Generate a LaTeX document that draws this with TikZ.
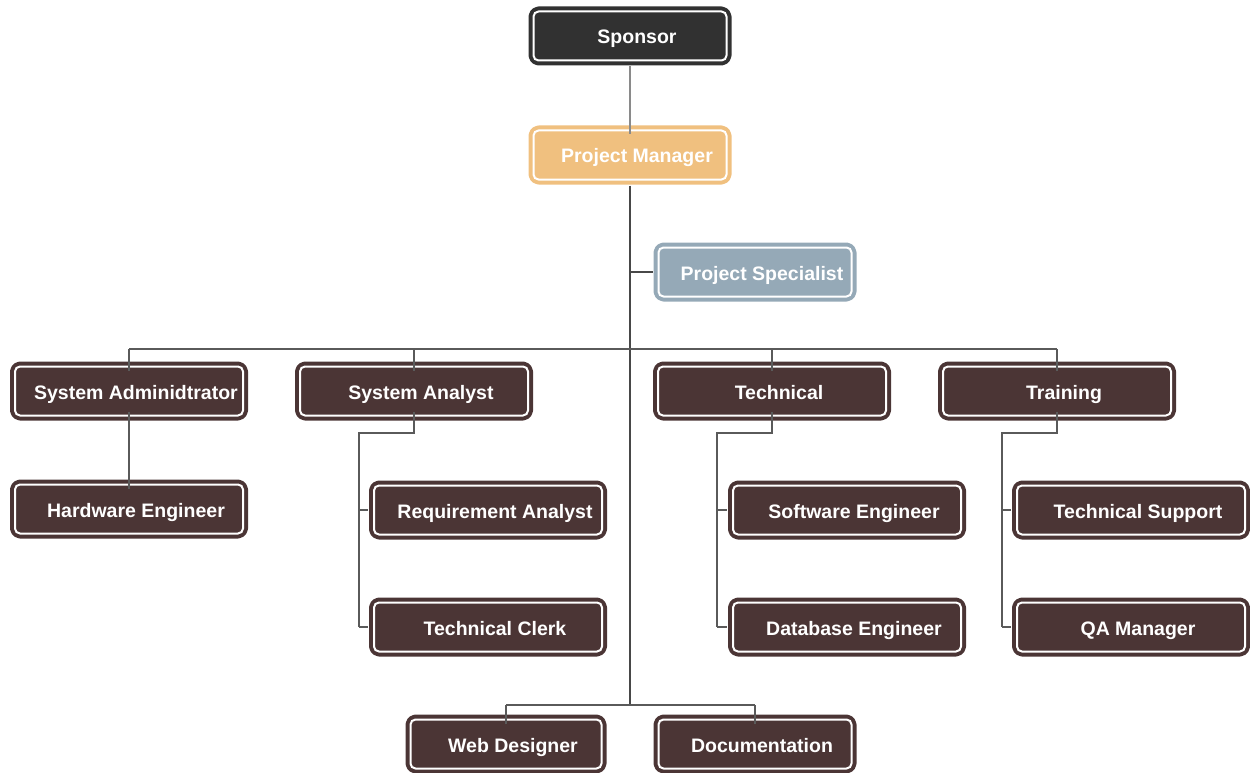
\documentclass[tikz,border=0pt]{standalone}
\usepackage{fontspec}
\setmainfont{Liberation Sans}
\definecolor{sponsorfill}{HTML}{313131}
\definecolor{managerfill}{HTML}{F0C07F}
\definecolor{specialfill}{HTML}{95A9B7}
\definecolor{teamfill}{HTML}{4B3535}
\definecolor{linkgray}{HTML}{5A5A5A}
\definecolor{toplink}{HTML}{8A8A8A}
\tikzset{
  x=1pt, y=-1pt,
  role/.style={
    rectangle, rounded corners=5pt, fill=#1, draw=white, line width=2pt,
    preaction={draw=#1, line width=10pt, line join=round},
    minimum width=228pt, minimum height=49pt, inner xsep=0pt, inner ysep=0pt,
    text height=19pt, text depth=3pt,
    text=white, font=\fontsize{19.5}{22}\selectfont\bfseries
  },
  link/.style={draw=linkgray, line width=1.4pt},
  trunk/.style={draw=linkgray!80!black, line width=2pt},
}
\newcommand{\rolename}[1]{\hspace*{14pt}#1}
\begin{document}
\begin{tikzpicture}
\useasboundingbox (0,0) rectangle (1250,773);

% junction points
\coordinate (busL) at (129,349);
\coordinate (busR) at (1057,349);
\coordinate (trunkEnd) at (630,705);

% role boxes
\node[role=sponsorfill, minimum width=193pt] (sponsor) at (630,36) {\rolename{Sponsor}};
\node[role=managerfill, minimum width=193pt] (pm) at (630,155) {\rolename{Project Manager}};
\node[role=specialfill, minimum width=193pt] (spec) at (755,272) {\rolename{Project Specialist}};

\node[role=teamfill] (sysadm) at (129,391) {\rolename{System Adminidtrator}};
\node[role=teamfill] (sysan) at (414,391) {\rolename{System Analyst}};
\node[role=teamfill] (tech) at (772,391) {\rolename{Technical}};
\node[role=teamfill] (train) at (1057,391) {\rolename{Training}};

\node[role=teamfill] (hw) at (129,509) {\rolename{Hardware Engineer}};
\node[role=teamfill] (req) at (488,510) {\rolename{Requirement Analyst}};
\node[role=teamfill] (clerk) at (488,627) {\rolename{Technical Clerk}};
\node[role=teamfill] (sw) at (847,510) {\rolename{Software Engineer}};
\node[role=teamfill] (db) at (847,627) {\rolename{Database Engineer}};
\node[role=teamfill] (support) at (1131,510) {\rolename{Technical Support}};
\node[role=teamfill] (qa) at (1131,627) {\rolename{QA Manager}};

\node[role=teamfill, minimum width=191pt] (web) at (506,744) {\rolename{Web Designer}};
\node[role=teamfill, minimum width=193pt] (doc) at (755,744) {\rolename{Documentation}};

% top of the hierarchy
\draw[draw=toplink, line width=2pt] (sponsor.south) ++(0,5) -- ([yshift=-5pt]pm.north);
\draw[trunk] (pm.south) ++(0,5) -- (trunkEnd);
\draw[trunk] (630,272) -- ([xshift=-5pt]spec.west);

% department bus
\draw[link] (busL) -- (busR);
\draw[link] (busL) -- ([yshift=-5pt]sysadm.north);
\draw[link] (414,349) -- ([yshift=-5pt]sysan.north);
\draw[link] (772,349) -- ([yshift=-5pt]tech.north);
\draw[link] (busR) -- ([yshift=-5pt]train.north);

% hardware
\draw[link] ([yshift=5pt]sysadm.south) -- ([yshift=-5pt]hw.north);

% system analyst branch
\draw[link] ([yshift=5pt]sysan.south) |- (359,433) -- (359,627);
\draw[link] (359,510) -- ([xshift=-5pt]req.west);
\draw[link] (359,627) -- ([xshift=-5pt]clerk.west);

% technical branch
\draw[link] ([yshift=5pt]tech.south) |- (717,433) -- (717,627);
\draw[link] (717,510) -- ([xshift=-5pt]sw.west);
\draw[link] (717,627) -- ([xshift=-5pt]db.west);

% training branch
\draw[link] ([yshift=5pt]train.south) |- (1002,433) -- (1002,627);
\draw[link] (1002,510) -- ([xshift=-5pt]support.west);
\draw[link] (1002,627) -- ([xshift=-5pt]qa.west);

% bottom pair
\draw[link] (506,705) -- (755,705);
\draw[link] (506,705) -- ([yshift=-5pt]web.north);
\draw[link] (755,705) -- ([yshift=-5pt]doc.north);
\end{tikzpicture}
\end{document}
